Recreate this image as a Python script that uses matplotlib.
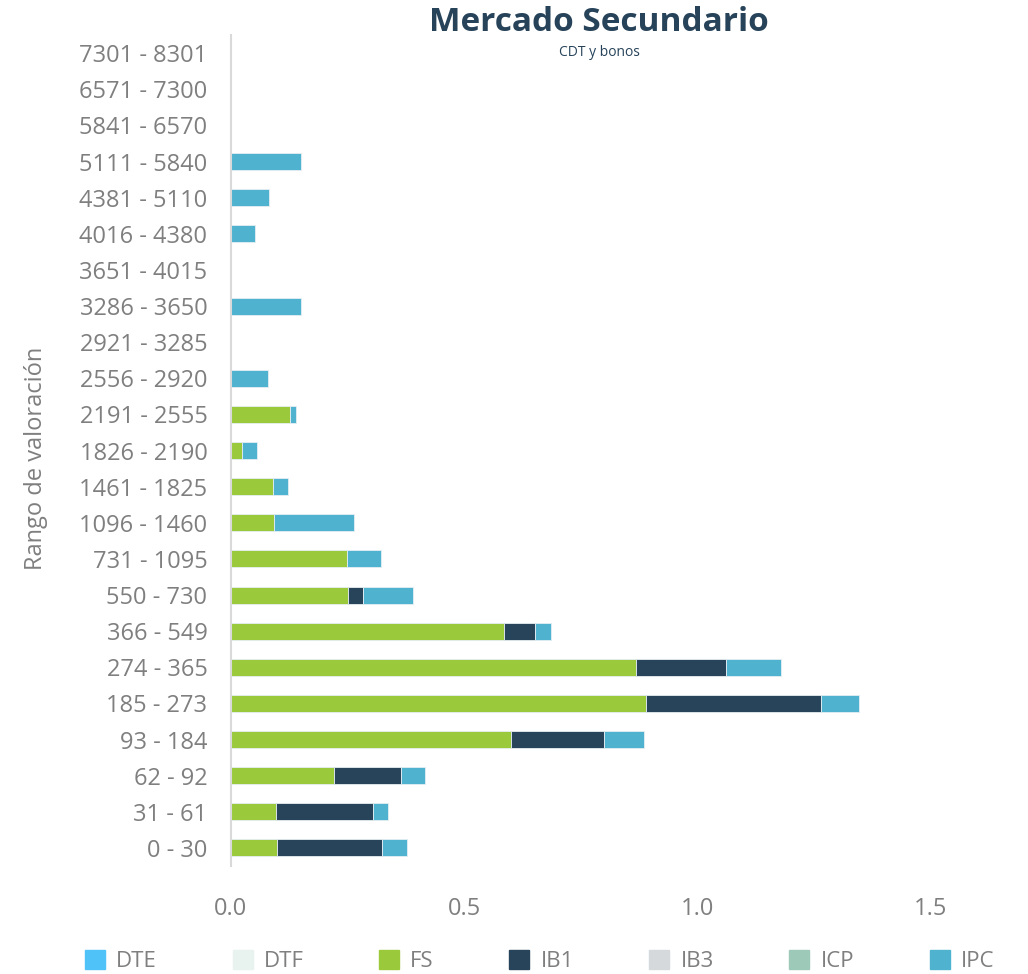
import matplotlib
matplotlib.use("Agg")
import matplotlib.pyplot as plt
import matplotlib.patches as mpatches
import numpy as np

# rangos de valoracion (de abajo hacia arriba)
rangos = ["0 - 30", "31 - 61", "62 - 92", "93 - 184", "185 - 273", "274 - 365",
          "366 - 549", "550 - 730", "731 - 1095", "1096 - 1460", "1461 - 1825",
          "1826 - 2190", "2191 - 2555", "2556 - 2920", "2921 - 3285", "3286 - 3650",
          "3651 - 4015", "4016 - 4380", "4381 - 5110", "5111 - 5840", "5841 - 6570",
          "6571 - 7300", "7301 - 8301"]

dte = [0] * 23
dtf = [0] * 23
fs  = [0.099, 0.096, 0.221, 0.601, 0.890, 0.868, 0.585, 0.251, 0.250, 0.093, 0.091,
       0.024, 0.127, 0, 0, 0, 0, 0, 0, 0, 0, 0, 0]
ib1 = [0.226, 0.208, 0.143, 0.200, 0.375, 0.195, 0.067, 0.032, 0, 0, 0,
       0, 0, 0, 0, 0, 0, 0, 0, 0, 0, 0, 0]
ib3 = [0] * 23
icp = [0] * 23
ipc = [0.052, 0.032, 0.052, 0.085, 0.082, 0.118, 0.035, 0.107, 0.072, 0.172, 0.031,
       0.032, 0.013, 0.080, 0, 0.151, 0, 0.052, 0.082, 0.150, 0, 0, 0]

series = ["DTE", "DTF", "FS", "IB1", "IB3", "ICP", "IPC"]
valores = [dte, dtf, fs, ib1, ib3, icp, ipc]
colores = ["#4FC3F7", "#E8F3EF", "#9ACA3C", "#27445A", "#D6D9DC", "#9DC9B8", "#4FB3D0"]

gris = "#7F7F7F"
fuente = ["Open Sans", "DejaVu Sans"]

fig = plt.figure(figsize=(10.28, 9.74), dpi=100)
ax = fig.add_axes([0.2247, 0.1109, 0.680, 0.853])

y = np.arange(len(rangos))
izq = np.zeros(len(rangos))
for nombre, v, c in zip(series, valores, colores):
    v = np.array(v)
    ax.barh(y, v, left=izq, height=0.47, color=c, edgecolor="#E6EEF2", linewidth=0.6)
    izq += v

ax.set_xlim(0, 1.5)
ax.set_ylim(-0.5, len(rangos) - 0.5)
ax.set_xticks([0, 0.5, 1.0, 1.5])
ax.set_xticklabels(["0.0", "0.5", "1.0", "1.5"], fontsize=17, color=gris, family=fuente)
ax.set_yticks(y)
ax.set_yticklabels(rangos, fontsize=17, color=gris, family=fuente)
ax.tick_params(length=0, pad=17, axis="y")
ax.tick_params(length=0, pad=22, axis="x")
for s in ["top", "right", "bottom"]:
    ax.spines[s].set_visible(False)
ax.spines["left"].set_color("#D9D9D9")
ax.spines["left"].set_linewidth(1.5)

fig.text(0.035, 0.529, "Rango de valoración", rotation=90, ha="center", va="center",
         fontsize=17, color=gris, family=fuente)
fig.text(0.583, 0.977, "Mercado Secundario", ha="center", va="center",
         fontsize=24, fontweight="bold", color="#27435A", family=fuente)
fig.text(0.583, 0.946, "CDT y bonos", ha="center", va="center",
         fontsize=10, color="#27435A", family=fuente)

handles = [mpatches.Patch(color=c, label=n) for n, c in zip(series, colores)]
fig.legend(handles=handles, loc="center", bbox_to_anchor=(0.525, 0.013), ncol=7,
           frameon=False, handlelength=0.9, handleheight=0.9, handletextpad=0.5,
           columnspacing=3.4, prop={"family": fuente, "size": 16}, labelcolor=gris)

fig.savefig("out.png", dpi=100, facecolor="white")
